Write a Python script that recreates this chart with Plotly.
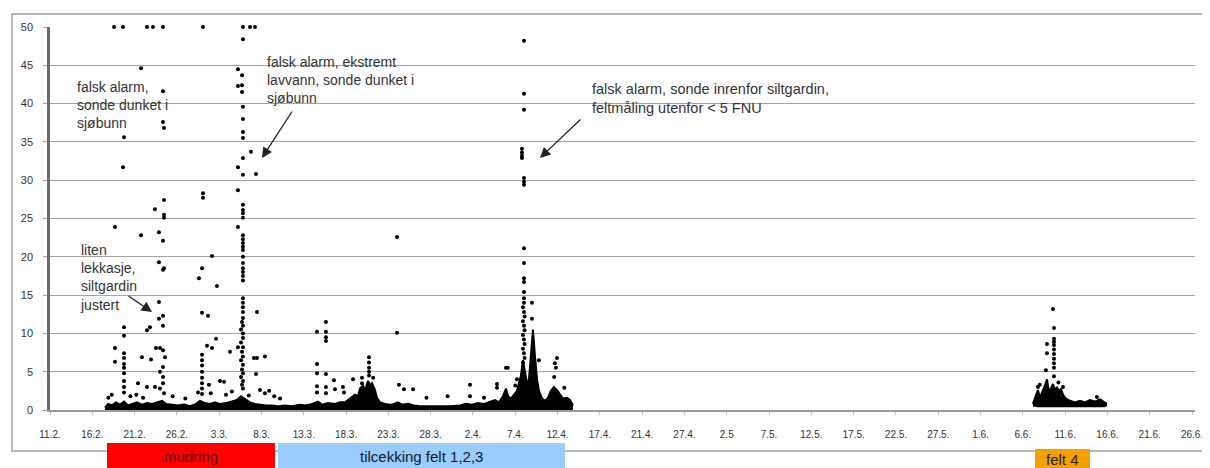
import plotly.graph_objects as go

# ---------------- data (days after 11 Feb, turbidity FNU) ----------------
tick_labels = ["11.2.", "16.2.", "21.2.", "26.2.", "3.3.", "8.3.", "13.3.", "18.3.", "23.3.",
               "28.3.", "2.4.", "7.4.", "12.4.", "17.4.", "21.4.", "27.4.", "2.5", "7.5.",
               "12.5.", "17.5.", "22.5.", "27.5.", "1.6.", "6.6.", "11.6.", "16.6.", "21.6.", "26.6."]
y_ticks = [0, 5, 10, 15, 20, 25, 30, 35, 40, 45, 50]

# dense continuous measurement band (upper envelope), period 1
band_day = [6.50, 6.86, 7.33, 7.80, 8.27, 8.75, 9.22, 9.81, 10.28, 10.87, 11.47, 12.06, 12.65,
            13.24, 13.71, 14.42, 15.13, 15.84, 16.55, 17.26, 17.73, 18.32, 18.91, 19.50, 20.09,
            20.80, 21.51, 22.10, 22.58, 23.05, 23.64, 24.23, 24.82, 25.53, 26.24, 26.95, 27.78,
            28.61, 29.55, 30.26, 30.97, 31.68, 32.15, 32.86, 33.69, 34.28, 34.87, 35.46, 36.05,
            36.41, 36.64, 37.00, 37.23, 37.59, 37.83, 38.06, 38.42, 38.65, 39.01, 39.60, 40.19,
            40.66, 41.13, 41.61, 42.32, 43.03, 43.74, 44.92, 46.10, 47.28, 48.46, 49.17, 49.88,
            50.59, 51.30, 52.01, 52.60, 53.07, 53.55, 53.90, 54.14, 54.49, 54.85, 55.20, 55.44,
            55.67, 55.91, 56.15, 56.38, 56.62, 56.86, 57.09, 57.33, 57.57, 57.80, 58.16, 58.51,
            58.87, 59.22, 59.57, 59.93, 60.28, 60.64, 61.11, 61.47, 61.82]
band_top = [0.3, 0.8, 0.6, 1.0, 0.7, 1.1, 0.6, 0.8, 1.0, 0.7, 0.9, 0.8, 1.0,
            1.2, 0.8, 0.7, 0.6, 0.7, 0.5, 0.8, 1.2, 0.9, 0.8, 1.0, 0.8,
            0.9, 1.1, 1.3, 1.8, 1.4, 1.0, 0.8, 0.7, 0.6, 0.6, 0.5, 0.6,
            0.5, 0.7, 0.6, 0.8, 1.1, 0.7, 0.9, 0.8, 1.0, 1.0, 1.5, 2.0,
            1.8, 2.8, 3.2, 2.5, 3.8, 3.2, 3.5, 2.6, 1.6, 1.0, 0.8, 0.7,
            0.8, 1.0, 0.7, 0.8, 0.6, 0.5, 0.5, 0.5, 0.5, 0.6, 0.8, 0.7,
            0.9, 0.8, 1.1, 1.3, 1.0, 1.8, 2.8, 1.8, 1.5, 2.0, 2.5, 3.5,
            4.5, 6.5, 5.0, 3.5, 4.0, 7.5, 10.5, 7.0, 4.0, 2.5, 1.5, 1.2,
            1.6, 2.5, 3.0, 2.6, 2.0, 1.5, 1.6, 1.3, 0.6]

# dense band, felt 4 period
felt4_band_day = [116.19, 116.55, 116.78, 117.02, 117.26, 117.61, 117.85, 118.09, 118.32,
                  118.56, 118.79, 119.03, 119.27, 119.50, 119.74, 120.09, 120.57, 121.16,
                  121.75, 122.34, 122.93, 123.52, 124.11, 124.59, 124.94]
felt4_band_top = [0.8, 1.8, 2.6, 1.6, 2.2, 3.2, 4.0, 2.4, 2.8, 3.4, 2.6, 3.0, 2.4, 2.8, 2.0,
                  1.5, 1.2, 1.0, 1.2, 1.0, 1.3, 1.1, 1.4, 1.1, 0.8]
felt4_band_low = [0.6, 0.5, 0.5, 0.5, 0.5, 0.5, 0.5, 0.5, 0.5, 0.5, 0.5, 0.5, 0.5, 0.5, 0.5,
                  0.5, 0.5, 0.5, 0.5, 0.5, 0.5, 0.5, 0.5, 0.5, 0.6]

# scattered single readings, mudring period
mud_day = [7.57, 8.63, 11.47, 12.17, 13.36, 18.09, 22.81, 23.64, 24.23,
           22.81, 10.76, 22.22, 22.70, 13.36, 22.22, 22.70, 22.70, 22.81, 13.36, 13.48, 22.81,
           22.81, 8.75, 22.81, 23.76, 22.81, 8.63, 22.22, 22.81, 24.35, 22.22, 18.09, 18.09,
           13.48, 12.41, 13.48, 13.48, 22.81, 22.81, 22.81, 22.81, 7.68, 10.76, 12.88, 13.36,
           22.22, 22.81, 22.81, 22.81, 22.81, 22.81, 19.15, 12.88, 13.48, 13.36, 17.97, 17.61,
           19.74, 22.81, 22.81, 22.81, 22.81, 22.81, 22.81, 12.88, 24.47, 17.97, 18.68,
           22.81, 22.81, 22.81, 22.81, 22.81, 22.70, 22.81, 22.58, 22.81, 22.81, 22.58, 22.81,
           22.70, 22.81, 22.58, 22.81, 22.70, 22.81, 22.58, 22.81, 22.70, 22.81,
           13.36, 12.88, 13.36, 11.82, 11.47, 8.75, 8.75, 7.68, 7.68, 8.75, 8.75, 8.75, 8.75,
           8.75, 8.75, 8.75, 8.75, 10.87, 11.94, 12.53, 13.00, 13.36, 13.59, 13.36, 13.00,
           13.36, 13.36, 13.00, 13.48, 19.62, 18.56, 19.15, 17.97, 17.97, 17.97, 17.97, 17.97,
           17.97, 17.97, 17.97, 21.28, 22.22, 24.11, 24.47, 25.41, 24.35, 18.79, 20.09, 20.57,
           10.40, 11.47, 12.41, 24.82, 25.41, 7.3, 6.9, 9.5, 10.2, 11.0, 14.5, 16.0, 17.5,
           19.0, 20.8, 21.5, 23.5, 25.9, 26.5, 27.2]
mud_val = [50, 50, 50, 50, 50, 50, 50, 50, 50,
           48.4, 44.6, 44.5, 43.7, 41.6, 42.3, 42.4, 41.5, 39.6, 37.6, 36.8, 38.0,
           36.3, 35.6, 35.5, 33.7, 32.9, 31.7, 31.7, 30.7, 30.8, 28.7, 28.3, 27.7,
           27.4, 26.2, 25.5, 25.1, 26.8, 26.1, 25.7, 25.1, 23.9, 22.8, 23.2, 22.1,
           23.9, 22.8, 22.3, 21.8, 21.3, 20.9, 20.1, 19.3, 18.5, 18.3, 18.5, 17.2,
           16.2, 20.0, 19.2, 18.5, 18.0, 17.5, 16.9, 14.1, 12.8, 12.7, 12.3,
           14.6, 14.0, 13.4, 12.8, 12.0, 11.5, 11.0, 10.5, 10.0, 9.4, 8.8, 8.2,
           7.6, 7.0, 6.5, 5.9, 5.3, 4.8, 4.3, 3.8, 3.3, 2.8,
           12.3, 11.9, 11.0, 10.8, 10.4, 10.8, 9.7, 8.1, 6.3, 7.4, 6.8, 6.0, 5.5,
           4.8, 3.8, 3.0, 2.3, 6.9, 6.6, 8.1, 8.1, 7.8, 6.9, 5.6, 5.0,
           4.3, 3.5, 2.8, 2.2, 9.3, 8.4, 8.1, 7.2, 6.5, 5.8, 5.0, 4.2,
           3.5, 2.8, 2.1, 7.6, 8.2, 6.8, 6.8, 7.0, 4.7, 3.3, 3.8, 3.7,
           3.5, 3.0, 3.0, 2.6, 2.2, 2.0, 1.6, 1.8, 2.0, 1.6, 1.8, 1.5, 2.3,
           2.2, 2.0, 2.4, 1.9, 2.5, 1.8, 1.5]

# scattered single readings, tildekking period
cover_day = [32.62, 31.56, 32.62, 32.62, 32.62, 41.02, 41.02, 37.71, 31.56, 31.56, 32.62,
             31.56, 31.56, 32.62, 32.62, 33.57, 33.69, 34.63, 34.75, 35.82, 36.88, 36.88,
             36.88, 37.71, 37.71, 37.71, 37.71, 38.20, 41.25, 41.84, 42.91, 44.50, 47.00,
             49.65, 49.65, 51.30, 52.84, 52.84, 53.90, 54.10, 55.20, 55.00,
             56.03, 56.03, 56.03, 55.79, 55.79, 55.79, 55.79, 56.03, 56.03, 56.03, 56.03,
             56.03, 56.03, 56.03, 56.03, 56.03, 56.03, 55.91, 56.03, 56.10, 55.91, 56.03,
             56.10, 55.91, 56.03, 56.10, 55.91, 56.03, 56.10, 55.91, 56.97, 56.97, 57.80,
             59.93, 59.69, 59.80, 59.60, 60.80]
cover_val = [11.5, 10.2, 10.2, 9.5, 9.0, 10.1, 22.6, 6.9, 6.0, 4.8, 4.7,
             3.1, 2.3, 3.0, 2.2, 3.9, 2.7, 3.0, 2.3, 4.0, 4.2, 3.5,
             2.8, 6.2, 5.5, 5.0, 4.5, 4.2, 3.3, 2.7, 2.7, 1.6, 1.8,
             3.3, 1.8, 1.6, 3.4, 2.9, 5.5, 5.5, 4.0, 3.2,
             48.2, 41.3, 39.2, 34.1, 33.6, 33.2, 32.9, 30.3, 29.8, 29.4, 21.1,
             19.2, 17.2, 16.7, 15.4, 14.6, 14.0, 13.4, 12.8, 12.2, 11.6, 11.0,
             10.4, 9.8, 9.2, 8.6, 8.0, 7.4, 6.8, 6.2, 14.0, 11.9, 6.5,
             6.8, 6.1, 5.5, 4.3, 2.9]

# scattered single readings, felt 4 period
felt4_day = [118.56, 118.68, 118.68, 118.68, 118.68, 117.85, 117.85, 118.68, 118.68, 118.68,
             118.68, 118.68, 117.73, 118.68, 116.78, 119.74, 123.76, 117.00, 119.20]
felt4_val = [13.2, 10.7, 9.3, 8.9, 8.5, 8.6, 7.4, 7.9, 7.3, 6.7,
             6.1, 5.5, 5.2, 4.4, 3.0, 3.0, 1.7, 3.3, 3.6]

# ---------------- figure ----------------
FONT = "Arial, Liberation Sans, sans-serif"
fig = go.Figure()

fig.add_trace(go.Scatter(x=band_day, y=band_top, mode="lines", fill="tozeroy",
                         fillcolor="black", line=dict(color="black", width=2),
                         hoverinfo="skip"))
fig.add_trace(go.Scatter(x=felt4_band_day, y=felt4_band_low, mode="lines",
                         line=dict(color="black", width=2), hoverinfo="skip"))
fig.add_trace(go.Scatter(x=felt4_band_day, y=felt4_band_top, mode="lines", fill="tonexty",
                         fillcolor="black", line=dict(color="black", width=2),
                         hoverinfo="skip"))
for xs, ys in [(mud_day, mud_val), (cover_day, cover_val), (felt4_day, felt4_val)]:
    fig.add_trace(go.Scatter(x=xs, y=ys, mode="markers", cliponaxis=False,
                             marker=dict(color="black", size=4, symbol="circle",
                                         line=dict(width=0))))

# page is rendered with an 8px body margin; plot area in page pixels: x 50..1195, y 27..410
def px_x(p):
    return (p - 50) / 1145.0

def px_y(p):
    return (410 - p) / 383.0

shapes = []
for x0, x1, y0, y1 in [(263, 467, 52, 122), (590, 862, 75, 112), (82, 157, 262, 312)]:
    shapes.append(dict(type="rect", xref="paper", yref="paper", x0=px_x(x0), x1=px_x(x1),
                       y0=px_y(y1), y1=px_y(y0), fillcolor="white", line=dict(width=0),
                       layer="between"))
# outer chart frame
shapes.append(dict(type="rect", xref="paper", yref="paper", x0=px_x(12), x1=px_x(1207),
                   y0=px_y(451), y1=px_y(14), line=dict(color="#a0a0a0", width=1.5),
                   fillcolor="rgba(0,0,0,0)", layer="below"))
# phase bars
bars = [(107, 275, 443, "#ff0000", "mudring", "#5a0000"),
        (278, 565, 443, "#99ccff", "tilcekking felt 1,2,3", "#10182a"),
        (1035, 1090, 449, "#f5a000", "felt 4", "#2a1a00")]
annotations = []
for x0, x1, top, col, label, tcol in bars:
    shapes.append(dict(type="rect", xref="paper", yref="paper", x0=px_x(x0), x1=px_x(x1),
                       y0=px_y(476), y1=px_y(top), fillcolor=col, line=dict(width=0),
                       layer="above"))
    annotations.append(dict(xref="paper", yref="paper", x=px_x((x0 + x1) / 2),
                            y=px_y((top + 468) / 2 + 1), text=label, showarrow=False,
                            font=dict(family=FONT, size=15, color=tcol),
                            xanchor="center", yanchor="middle"))

# comment texts
notes = [("falsk alarm,<br>sonde dunket i<br>sjøbunn", 75, 77, 14),
         ("falsk alarm, ekstremt<br>lavvann, sonde dunket i<br>sjøbunn", 265, 52, 14),
         ("falsk alarm, sonde inrenfor siltgardin,<br>feltmåling utenfor < 5 FNU", 590, 79, 14.5),
         ("liten<br>lekkasje,<br>siltgardin<br>justert", 78, 240, 14)]
for text, lx, ty, fs in notes:
    annotations.append(dict(xref="paper", yref="paper", x=px_x(lx), y=px_y(ty), text=text,
                            showarrow=False, align="left", xanchor="left", yanchor="top",
                            font=dict(family=FONT, size=fs, color="#333333")))

# arrows (head in data coords, tail offset in pixels)
for hx, hy, ax, ay in [(12.06, 12.8, -25, -17), (25.06, 32.9, 31, -48), (57.92, 32.9, 42, -40)]:
    annotations.append(dict(x=hx, y=hy, xref="x", yref="y", ax=ax, ay=ay, text="",
                            showarrow=True, arrowhead=2, arrowsize=1.6, arrowwidth=1.3,
                            arrowcolor="#222222"))

fig.update_layout(
    width=1210, height=468,
    margin=dict(l=42, r=23, t=19, b=66),
    paper_bgcolor="white", plot_bgcolor="white",
    showlegend=False,
    shapes=shapes, annotations=annotations,
    font=dict(family=FONT),
)
fig.update_xaxes(range=[0, 135.35], tickmode="array",
                 tickvals=[5 * i for i in range(len(tick_labels))], ticktext=tick_labels,
                 showgrid=False, zeroline=False, showline=True, linecolor="#9a9a9a",
                 linewidth=1.5, ticks="outside", ticklen=3, tickcolor="#c0c0c0",
                 ticklabelstandoff=11, tickfont=dict(family=FONT, size=10, color="#333333"))
fig.update_yaxes(range=[0, 50], tickmode="array", tickvals=y_ticks,
                 ticktext=[str(v) for v in y_ticks], showgrid=True, gridcolor="#a3a3a3",
                 gridwidth=1.3, zeroline=False, showline=True, linecolor="#6a6a6a",
                 linewidth=2.5, ticks="outside", ticklen=4, tickcolor="#a3a3a3",
                 ticklabelstandoff=8, tickfont=dict(family=FONT, size=11, color="#333333"))

fig.write_html("out.html")
